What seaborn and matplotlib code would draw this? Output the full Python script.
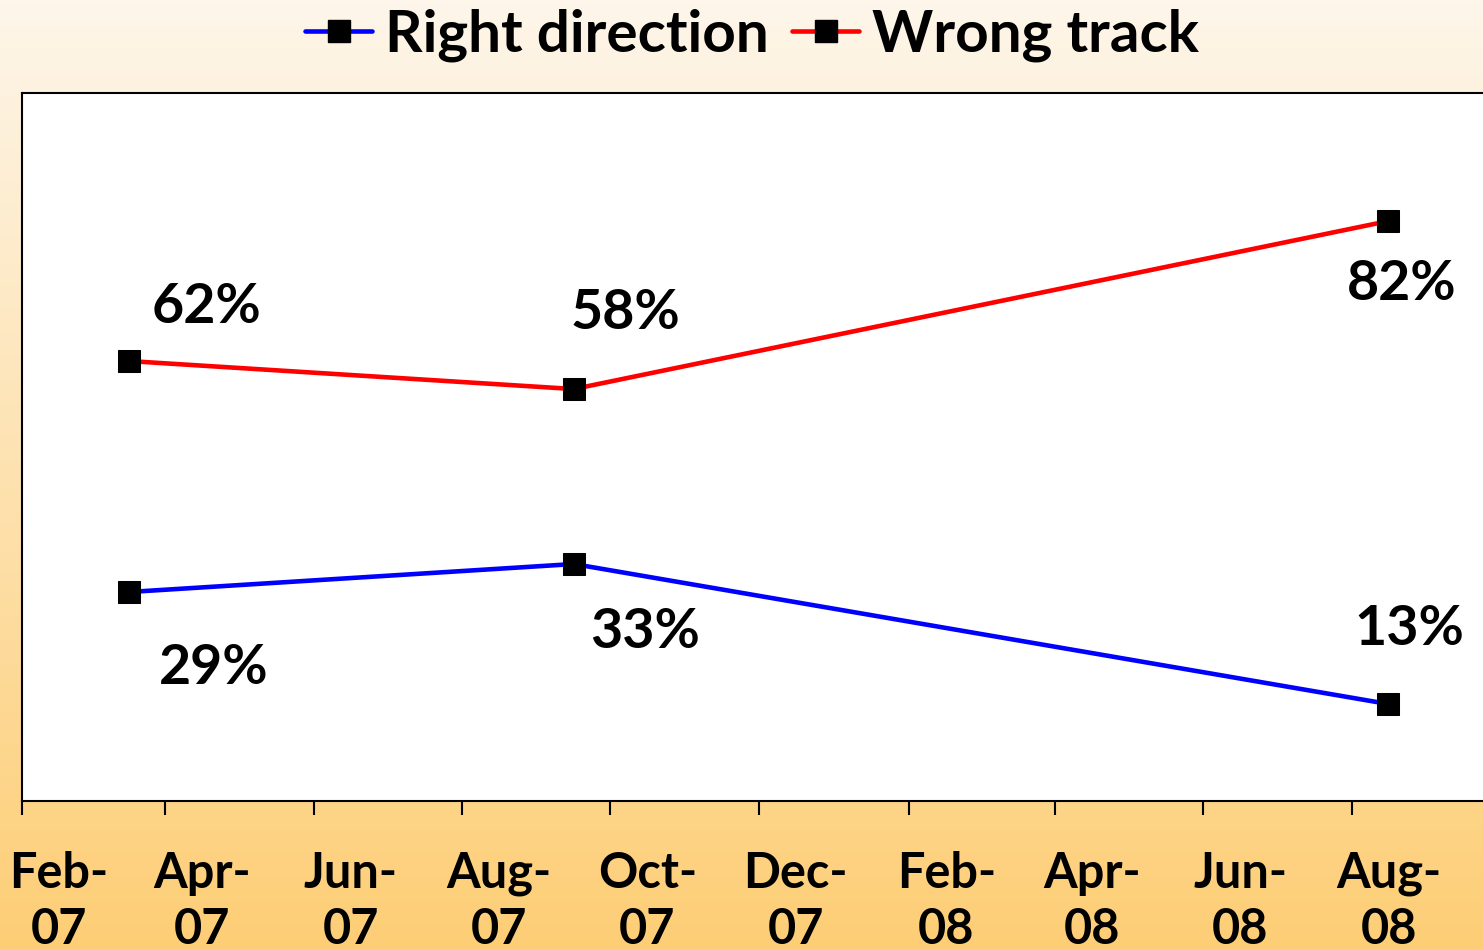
import pandas as pd
import numpy as np
import matplotlib.pyplot as plt
import matplotlib.transforms as mtransforms
from matplotlib.lines import Line2D
import seaborn as sns

# survey dates and values (%)
dates = ['2007-03-17', '2007-09-16', '2008-08-16']
right_direction = [29, 33, 13]
wrong_track = [62, 58, 82]
series_names = ['Right direction', 'Wrong track']
series_colors = ['#0000FF', '#FF0000']
tick_dates = pd.date_range('2007-02-01', '2008-08-01', freq='2MS')
tick_labels = [d.strftime('%b-\n%y') for d in tick_dates]

df = pd.DataFrame({
    'date': pd.to_datetime(dates * 2),
    'value': right_direction + wrong_track,
    'series': [series_names[0]] * 3 + [series_names[1]] * 3,
})

sns.set_style('white')
plt.rcParams['font.family'] = ['Lato', 'DejaVu Sans']
plt.rcParams['font.weight'] = 'bold'
plt.rcParams['text.color'] = 'black'
plt.rcParams['xtick.color'] = 'black'
plt.rcParams['xtick.labelcolor'] = 'black'

fig = plt.figure(figsize=(14.83, 9.49), dpi=100)

# gradient background
bg = fig.add_axes([0, 0, 1, 1], zorder=-10)
top = np.array([254, 246, 234]) / 255
bot = np.array([253, 206, 118]) / 255
t = np.linspace(0, 1, 256)[:, None, None]
grad = top * (1 - t) + bot * t
grad = np.repeat(grad, 2, axis=1)
bg.imshow(grad, aspect='auto', extent=[0, 1, 0, 1])
bg.axis('off')

ax = fig.add_axes([22 / 1483, 1 - 801 / 949, (1500 - 22) / 1483, (801 - 93) / 949])
ax.set_facecolor('white')

for name, col in zip(series_names, series_colors):
    sub = df[df['series'] == name]
    sns.lineplot(data=sub, x='date', y='value', ax=ax, color=col, linewidth=3.3,
                 marker='s', markersize=16, markerfacecolor='black',
                 markeredgecolor='black', legend=False)

# data labels
offsets_r = [(61, -55), (51, -49), (15, 54)]
offsets_w = [(56, 39), (37, 55), (10, -45)]
for d, v, off in zip(dates, right_direction, offsets_r):
    ax.annotate(f'{v}%', (pd.Timestamp(d), v), xytext=off, textcoords='offset points',
                ha='center', va='center', fontsize=40, fontweight='bold', color='black')
for d, v, off in zip(dates, wrong_track, offsets_w):
    ax.annotate(f'{v}%', (pd.Timestamp(d), v), xytext=off, textcoords='offset points',
                ha='center', va='center', fontsize=40, fontweight='bold', color='black')

ax.set_xlim(pd.Timestamp('2007-02-01'), pd.Timestamp('2007-02-01') + pd.Timedelta(days=608))
ax.set_ylim(-0.86, 100.3)
ax.set_xticks(tick_dates)
ax.set_xticklabels(tick_labels, fontsize=35, fontweight='bold', linespacing=1.3)
ax.set_yticks([])
ax.set_xlabel('')
ax.set_ylabel('')
ax.tick_params(axis='x', direction='out', length=10, width=1.5, color='black',
               labelcolor='black', pad=26, bottom=True)
for lab in ax.get_xticklabels():
    lab.set_transform(lab.get_transform() + mtransforms.ScaledTranslation(0.37, 0, fig.dpi_scale_trans))
for s in ax.spines.values():
    s.set_color('black')
    s.set_linewidth(1.5)

handles = [Line2D([0], [0], color=c, linewidth=3.3, marker='s', markersize=16,
                  markerfacecolor='black', markeredgecolor='black') for c in series_colors]
leg = fig.legend(handles, series_names, loc='center', bbox_to_anchor=(0.507, 0.963), ncol=2,
                 frameon=False, fontsize=42, handlelength=1.15, handletextpad=0.22,
                 columnspacing=0.4, borderpad=0)
for txt in leg.get_texts():
    txt.set_color('black')

fig.savefig('out.png', dpi=100)
